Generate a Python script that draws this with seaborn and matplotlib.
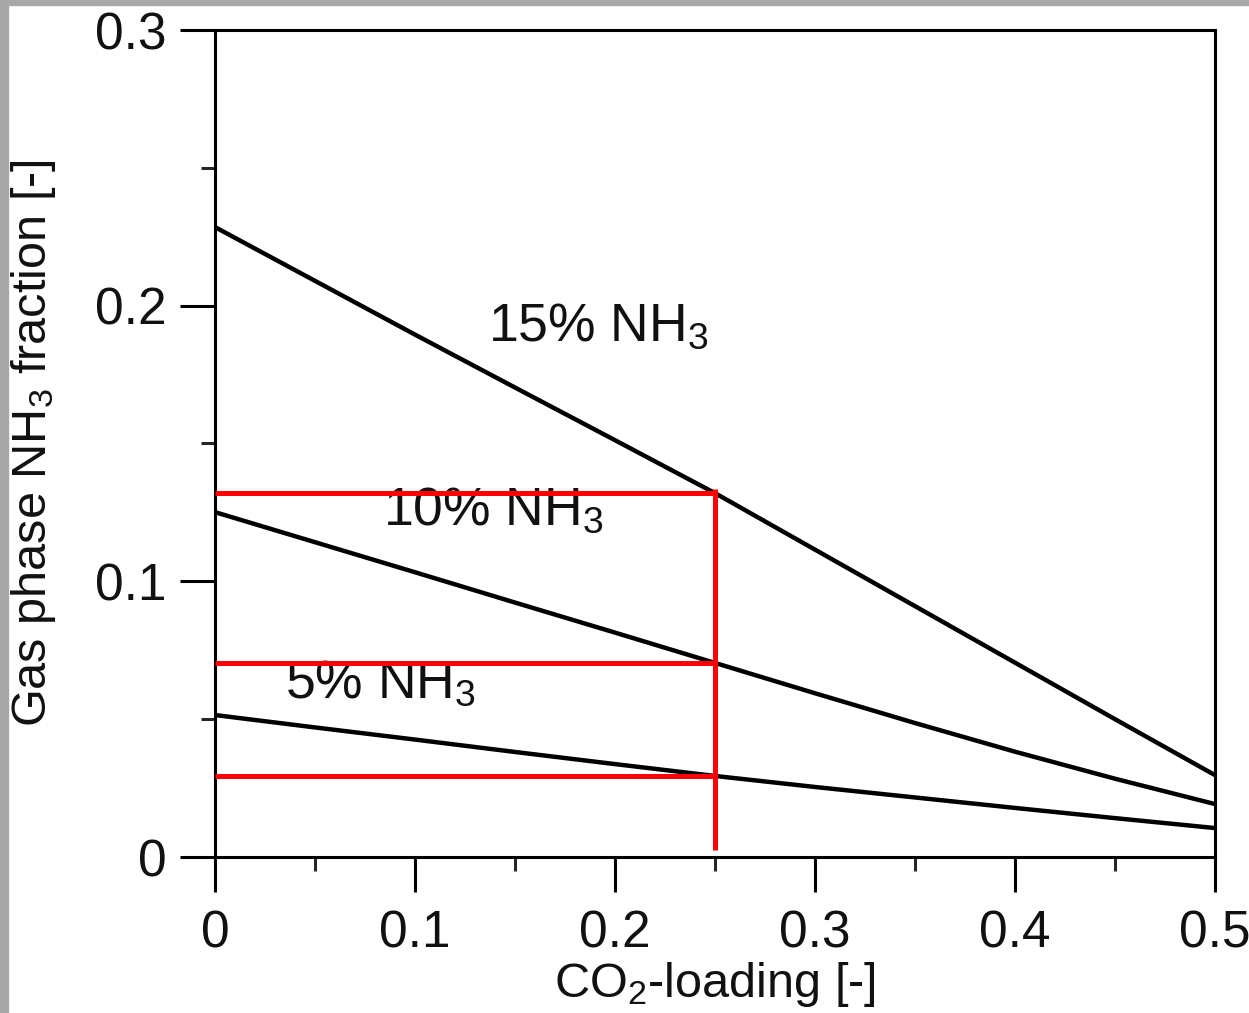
import matplotlib
matplotlib.use("Agg")
import matplotlib.pyplot as plt
from matplotlib.patches import Rectangle
from matplotlib.ticker import MultipleLocator
import numpy as np
import pandas as pd
import seaborn as sns

# values
co2_loading = [0.0, 0.05, 0.1, 0.15, 0.2, 0.25, 0.3, 0.35, 0.4, 0.45, 0.5]
nh3_15 = [0.2285, 0.2090, 0.1895, 0.1703, 0.1512, 0.132, 0.1115, 0.0910,
          0.0705, 0.0500, 0.0297]
nh3_10 = [0.1251, 0.1142, 0.1033, 0.0923, 0.0814, 0.0704, 0.0594, 0.0486,
          0.0382, 0.0284, 0.0192]
nh3_05 = [0.0515, 0.0470, 0.0426, 0.0381, 0.0337, 0.0294, 0.0254, 0.0216,
          0.0178, 0.0141, 0.0105]
series_names = ["15% NH3", "10% NH3", "5% NH3"]

# red guide lines at the chosen loading
guide_x = 0.25
guide_y = [0.132, 0.0704, 0.0294]
guide_v_range = [0.0025, 0.1335]

label_pos_x = [0.1365, 0.084, 0.035]
label_pos_y = [0.1875, 0.1204, 0.0577]

x_ticks = [0.0, 0.1, 0.2, 0.3, 0.4, 0.5]
x_tick_labels = ["0", "0.1", "0.2", "0.3", "0.4", "0.5"]
y_ticks = [0.0, 0.1, 0.2, 0.3]
y_tick_labels = ["0", "0.1", "0.2", "0.3"]

sns.set_theme(style="ticks")
plt.rcParams["font.family"] = ["Liberation Sans", "DejaVu Sans"]
plt.rcParams["mathtext.fontset"] = "custom"
plt.rcParams["mathtext.rm"] = "Liberation Sans"

df = pd.DataFrame({
    "loading": co2_loading * 3,
    "fraction": nh3_15 + nh3_10 + nh3_05,
    "series": np.repeat(series_names, len(co2_loading)),
})

fig = plt.figure(figsize=(12.49, 10.13), dpi=100, facecolor="white")
ax = fig.add_axes([215 / 1249, 156 / 1013, 1000 / 1249, 827 / 1013])

sns.lineplot(data=df, x="loading", y="fraction", hue="series",
             palette=["black"] * 3, linewidth=3.2, legend=False, ax=ax)

for y in guide_y:
    ax.plot([0, guide_x], [y, y], color="#ff0000", linewidth=3.6, zorder=10,
            solid_capstyle="butt")
ax.plot([guide_x, guide_x], guide_v_range, color="#ff0000", linewidth=3.6,
        zorder=10, solid_capstyle="butt")

for name, x, y in zip(series_names, label_pos_x, label_pos_y):
    pct = name.split()[0]
    ax.text(x, y, pct + r" NH$\mathregular{_3}$", fontsize=38.5, ha="left",
            va="baseline", color="#111111", zorder=5)

ax.set_xlim(0, 0.5)
ax.set_ylim(0, 0.3)
ax.set_xticks(x_ticks)
ax.set_xticklabels(x_tick_labels)
ax.set_yticks(y_ticks)
ax.set_yticklabels(y_tick_labels)
ax.xaxis.set_minor_locator(MultipleLocator(0.05))
ax.yaxis.set_minor_locator(MultipleLocator(0.05))

ax.tick_params(which="major", direction="out", length=25, width=2.2,
               labelsize=37, colors="black", labelcolor="#111111",
               top=False, right=False)
ax.tick_params(axis="x", which="major", pad=13)
ax.tick_params(axis="y", which="major", pad=10)
ax.tick_params(which="minor", direction="out", length=10, width=2.2,
               top=False, right=False)

for side in ["left", "right", "top", "bottom"]:
    ax.spines[side].set_visible(True)
    ax.spines[side].set_linewidth(2.2)
    ax.spines[side].set_color("black")

ax.set_xlabel(r"CO$\mathregular{_2}$-loading [-]", fontsize=35, color="#111111")
ax.set_ylabel(r"Gas phase NH$\mathregular{_3}$ fraction [-]", fontsize=35,
              color="#111111")
ax.xaxis.set_label_coords(0.5, -0.125)
ax.yaxis.set_label_coords(-0.157, 0.5)

# gray scan border on the left and top edges
fig.add_artist(Rectangle((0, 0), 8 / 1249, 1, transform=fig.transFigure,
                         color="#a8a8a8", zorder=0))
fig.add_artist(Rectangle((0, 1 - 5 / 1013), 1, 5 / 1013,
                         transform=fig.transFigure, color="#a8a8a8", zorder=0))

fig.savefig("out.png", dpi=100, facecolor="white")
plt.close(fig)
